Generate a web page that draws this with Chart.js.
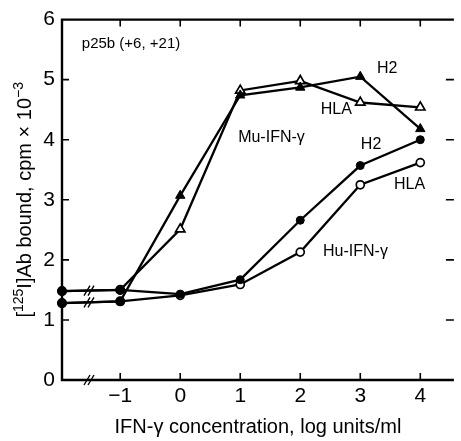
<!DOCTYPE html>
<html lang="en">
<head>
<meta charset="UTF-8">
<title>IFN-gamma binding</title>
<script src="https://cdn.jsdelivr.net/npm/chart.js@4.4.0/dist/chart.umd.min.js"></script>
<style>
  html, body { margin: 0; padding: 0; background: #fff; }
  #wrap { width: 461px; height: 441px; }
</style>
</head>
<body>
<div id="wrap"><canvas id="myChart" width="461" height="441"></canvas></div>
<script>
// first dose = control without IFN, plotted on the y axis (left of the axis break)
const doses = [-1.97, -1, 0, 1, 2, 3, 4];
const xTicks = [-1, 0, 1, 2, 3, 4];
const yTicks = [0, 1, 2, 3, 4, 5, 6];

// [125I]Ab bound, cpm x 10^-3
const muH2  = [1.28, 1.31, 3.07, 4.74, 4.87, 5.05, 4.18];
const muHLA = [1.48, 1.50, 2.51, 4.82, 4.98, 4.62, 4.54];
const huH2  = [1.48, 1.50, 1.43, 1.67, 2.66, 3.57, 4.00];
const huHLA = [1.28, 1.31, 1.41, 1.59, 2.13, 3.25, 3.62];

const notes = [
  { text: 'p25b (+6, +21)', x: -1.64, y: 5.6, size: 15, align: 'left' },
  { text: 'H2', x: 3.45, y: 5.18 },
  { text: 'HLA', x: 2.60, y: 4.50 },
  { text: 'Mu-IFN-\u03b3', x: 1.52, y: 4.04 },
  { text: 'H2', x: 3.18, y: 3.92 },
  { text: 'HLA', x: 3.82, y: 3.26 },
  { text: 'Hu-IFN-\u03b3', x: 2.92, y: 2.14 }
];

const FONT = '"Liberation Sans", Arial, Helvetica, sans-serif';
const BREAK_AT = -1.52;

function pts(vals) {
  return vals.map((v, i) => ({ x: doses[i], y: v }));
}

function series(vals, shape, filled) {
  return {
    data: pts(vals),
    borderColor: '#000',
    borderWidth: 2.3,
    tension: 0,
    clip: false,
    pointStyle: vals.map((v, i) => i < 2 ? 'circle' : shape),
    pointRadius: vals.map((v, i) => i < 2 ? 4.2 : (shape == 'triangle' ? 5.4 : 4)),
    pointBackgroundColor: vals.map((v, i) => (i < 2 || filled) ? '#000' : '#fff'),
    pointBorderColor: '#000',
    pointBorderWidth: filled ? 1 : 1.7
  };
}

const frame = {
  id: 'frame',
  beforeDatasetsDraw(chart) {
    const { ctx, chartArea: a, scales: { x, y } } = chart;
    ctx.save();
    ctx.strokeStyle = '#000';
    ctx.lineWidth = 2.4;
    ctx.beginPath();
    ctx.moveTo(a.right, a.top); ctx.lineTo(a.left, a.top);
    ctx.lineTo(a.left, a.bottom); ctx.lineTo(a.right, a.bottom);
    ctx.stroke();

    ctx.lineWidth = 1.6;
    ctx.beginPath();
    xTicks.forEach(v => {
      const px = x.getPixelForValue(v);
      ctx.moveTo(px, a.bottom); ctx.lineTo(px, a.bottom - 7);
      ctx.moveTo(px, a.top); ctx.lineTo(px, a.top + 7);
    });
    yTicks.slice(1, 6).forEach(v => {
      const py = y.getPixelForValue(v);
      ctx.moveTo(a.left, py); ctx.lineTo(a.left + 7, py);
      ctx.moveTo(a.right, py); ctx.lineTo(a.right - 8, py);
    });
    ctx.stroke();

    // axis break marks on the axis and on the two control lines
    const bx = x.getPixelForValue(BREAK_AT);
    const t = (BREAK_AT - doses[0]) / (doses[1] - doses[0]);
    const ys = [0, muHLA[0] + (muHLA[1] - muHLA[0]) * t, muH2[0] + (muH2[1] - muH2[0]) * t];
    ctx.lineWidth = 1.4;
    ctx.beginPath();
    ys.forEach(v => {
      const py = y.getPixelForValue(v);
      [-2, 2].forEach(d => {
        ctx.moveTo(bx + d - 3, py + 5);
        ctx.lineTo(bx + d + 3, py - 5);
      });
    });
    ctx.stroke();
    ctx.restore();
  },
  afterDraw(chart) {
    const { ctx, scales: { x, y } } = chart;
    ctx.save();
    ctx.fillStyle = '#000';
    ctx.textBaseline = 'middle';
    notes.forEach(n => {
      ctx.font = (n.size || 16) + 'px ' + FONT;
      ctx.textAlign = n.align || 'center';
      ctx.fillText(n.text, x.getPixelForValue(n.x), y.getPixelForValue(n.y));
    });

    // y title with superscripts
    const parts = [
      { t: '[', sup: false },
      { t: '125', sup: true },
      { t: 'I]Ab bound, cpm \u00d7 10', sup: false },
      { t: '\u22123', sup: true }
    ];
    const big = '20px ' + FONT, small = '14px ' + FONT;
    let total = 0;
    parts.forEach(p => { ctx.font = p.sup ? small : big; p.w = ctx.measureText(p.t).width; total += p.w; });
    ctx.translate(24, (chart.chartArea.top + chart.chartArea.bottom) / 2);
    ctx.rotate(-Math.PI / 2);
    ctx.textAlign = 'left';
    ctx.textBaseline = 'alphabetic';
    let cx = -total / 2;
    parts.forEach(p => {
      ctx.font = p.sup ? small : big;
      ctx.fillText(p.t, cx, p.sup ? -1 : 7);
      cx += p.w;
    });
    ctx.restore();
  }
};

new Chart(document.getElementById('myChart'), {
  type: 'line',
  data: {
    datasets: [
      series(muH2, 'triangle', true),
      series(muHLA, 'triangle', false),
      series(huH2, 'circle', true),
      series(huHLA, 'circle', false)
    ]
  },
  options: {
    responsive: false,
    animation: false,
    layout: { padding: { top: 16, left: 0, right: 0, bottom: 0 } },
    plugins: { legend: { display: false }, tooltip: { enabled: false } },
    scales: {
      x: {
        type: 'linear',
        min: -1.97,
        max: 4.56,
        afterBuildTicks: s => { s.ticks = xTicks.map(v => ({ value: v })); },
        afterFit: s => { s.height = 61; },
        grid: { display: false, drawTicks: false },
        border: { display: false },
        ticks: {
          color: '#000',
          font: { family: FONT, size: 21 },
          padding: 4,
          maxRotation: 0,
          autoSkip: false,
          callback: v => v < 0 ? '\u2212' + Math.abs(v) : String(v)
        },
        title: {
          display: true,
          text: 'IFN-\u03b3 concentration, log units/ml',
          color: '#000',
          font: { family: FONT, size: 20 },
          padding: { top: 0, bottom: 2 }
        }
      },
      y: {
        min: 0,
        max: 6,
        afterBuildTicks: s => { s.ticks = yTicks.map(v => ({ value: v })); },
        afterFit: s => { s.width = 62; },
        grid: { display: false, drawTicks: false },
        border: { display: false },
        ticks: { color: '#000', font: { family: FONT, size: 21 }, padding: 7 }
      }
    }
  },
  plugins: [frame]
});
</script>
</body>
</html>
